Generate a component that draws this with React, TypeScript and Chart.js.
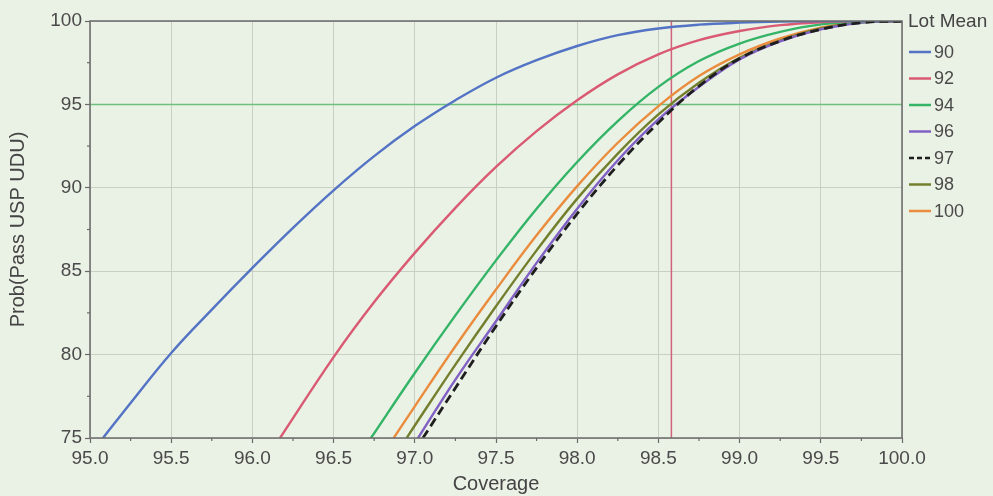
import { useEffect, useRef } from 'react';
import { Chart, registerables } from 'chart.js';

Chart.register(...registerables);

const FONT = '"Liberation Sans", Arial, Helvetica, sans-serif';
const BG = '#eaf1e5';

// Legend / series labels
const lotMeans = ['90', '92', '94', '96', '97', '98', '100'];
const seriesColors = ['#5373c4', '#d95a72', '#33b466', '#8060c4', '#1e1e1e', '#747f2e', '#ea8c3e'];

// Coverage (x) and probability (y), per lot mean
const cov90 = [95.08, 95.25, 95.5, 95.75, 96.0, 96.25, 96.5, 96.75, 97.0, 97.25, 97.5, 97.75, 98.0, 98.25, 98.5, 98.75, 99.0, 99.25, 99.5, 100.0];
const prob90 = [75, 77.1, 80.1, 82.7, 85.2, 87.6, 89.85, 91.9, 93.7, 95.25, 96.6, 97.65, 98.5, 99.15, 99.55, 99.78, 99.9, 99.97, 100, 100];

const cov92 = [96.17, 96.5, 96.75, 97.0, 97.25, 97.5, 97.75, 98.0, 98.25, 98.5, 98.75, 99.0, 99.25, 99.5, 99.75, 100.0];
const prob92 = [75, 79.85, 83.15, 86.1, 88.8, 91.25, 93.4, 95.25, 96.8, 98.0, 98.85, 99.4, 99.75, 99.93, 100, 100];

const cov94 = [96.73, 97.0, 97.25, 97.5, 97.75, 98.0, 98.25, 98.5, 98.75, 99.0, 99.25, 99.5, 99.75, 100.0];
const prob94 = [75, 78.9, 82.35, 85.65, 88.75, 91.55, 94.0, 96.05, 97.6, 98.65, 99.35, 99.8, 99.97, 100];

const cov96 = [97.02, 97.25, 97.5, 97.75, 98.0, 98.25, 98.5, 98.75, 99.0, 99.25, 99.5, 99.75, 100.0];
const prob96 = [75, 78.5, 82.0, 85.5, 88.75, 91.65, 94.1, 96.05, 97.7, 98.78, 99.5, 99.9, 100];

const cov97 = [97.05, 97.25, 97.5, 97.75, 98.0, 98.25, 98.5, 98.75, 99.0, 99.25, 99.5, 99.75, 100.0];
const prob97 = [75, 78.0, 81.7, 85.2, 88.45, 91.35, 93.9, 96.1, 97.75, 98.8, 99.5, 99.9, 100];

const cov98 = [96.95, 97.0, 97.25, 97.5, 97.75, 98.0, 98.25, 98.5, 98.75, 99.0, 99.25, 99.5, 99.75, 100.0];
const prob98 = [75, 75.75, 79.4, 82.9, 86.25, 89.35, 92.05, 94.4, 96.3, 97.8, 98.82, 99.55, 99.92, 100];

const cov100 = [96.87, 97.0, 97.25, 97.5, 97.75, 98.0, 98.25, 98.5, 98.75, 99.0, 99.25, 99.5, 99.75, 100.0];
const prob100 = [75, 76.9, 80.5, 83.9, 87.15, 90.1, 92.7, 94.9, 96.7, 98.0, 98.95, 99.6, 99.93, 100];

const coverageSets = [cov90, cov92, cov94, cov96, cov97, cov98, cov100];
const probSets = [prob90, prob92, prob94, prob96, prob97, prob98, prob100];
const dashedSeries = ['97'];

// Axis ranges and reference lines
const xMin = 95, xMax = 100, xStep = 0.5;
const yMin = 75, yMax = 100, yStep = 5;
const refProb = 95;
const refCoverage = 98.58;

const extrasPlugin = {
  id: 'extras',
  beforeDraw(chart: any) {
    const { ctx, width, height } = chart;
    ctx.save();
    ctx.fillStyle = BG;
    ctx.fillRect(0, 0, width, height);
    ctx.restore();
  },
  beforeDatasetsDraw(chart: any) {
    const { ctx, chartArea } = chart;
    const xs = chart.scales.x;
    const ys = chart.scales.y;
    ctx.save();
    ctx.lineWidth = 1.5;
    ctx.strokeStyle = '#6cc27c';
    const yp = ys.getPixelForValue(refProb);
    ctx.beginPath();
    ctx.moveTo(chartArea.left, yp);
    ctx.lineTo(chartArea.right, yp);
    ctx.stroke();
    ctx.strokeStyle = '#d0627a';
    const xp = xs.getPixelForValue(refCoverage);
    ctx.beginPath();
    ctx.moveTo(xp, chartArea.top);
    ctx.lineTo(xp, chartArea.bottom);
    ctx.stroke();
    ctx.restore();
  },
  afterDraw(chart: any) {
    const { ctx, chartArea } = chart;
    const xs = chart.scales.x;
    const ys = chart.scales.y;
    ctx.save();
    // frame
    ctx.strokeStyle = '#6a6a6a';
    ctx.lineWidth = 1.5;
    ctx.strokeRect(chartArea.left, chartArea.top, chartArea.right - chartArea.left, chartArea.bottom - chartArea.top);
    // minor ticks
    ctx.lineWidth = 1.2;
    for (let v = xMin + xStep / 2; v < xMax; v += xStep) {
      const p = xs.getPixelForValue(v);
      ctx.beginPath();
      ctx.moveTo(p, chartArea.bottom);
      ctx.lineTo(p, chartArea.bottom + 3);
      ctx.stroke();
    }
    for (let v = yMin + yStep / 2; v < yMax; v += yStep) {
      const p = ys.getPixelForValue(v);
      ctx.beginPath();
      ctx.moveTo(chartArea.left, p);
      ctx.lineTo(chartArea.left - 3, p);
      ctx.stroke();
    }
    // legend
    const lx = chartArea.right + 6;
    ctx.fillStyle = '#444';
    ctx.font = `19px ${FONT}`;
    ctx.textBaseline = 'middle';
    ctx.textAlign = 'left';
    ctx.fillText('Lot Mean', lx, 22);
    chart.data.datasets.forEach((ds: any, i: number) => {
      const y = 52 + i * 26.5;
      ctx.strokeStyle = ds.borderColor;
      ctx.lineWidth = 2.5;
      ctx.setLineDash(ds.borderDash && ds.borderDash.length ? [5, 3] : []);
      ctx.beginPath();
      ctx.moveTo(lx + 1, y);
      ctx.lineTo(lx + 23, y);
      ctx.stroke();
      ctx.setLineDash([]);
      ctx.fillStyle = '#4a4a4a';
      ctx.font = `18px ${FONT}`;
      ctx.fillText(ds.label, lx + 26, y + 1);
    });
    ctx.restore();
  },
};

export default function App() {
  const ref = useRef<HTMLCanvasElement | null>(null);
  useEffect(() => {
    document.body.style.margin = '0';
    if (!ref.current) return;
    Chart.defaults.font.family = FONT;
    const datasets = lotMeans.map((label, i) => ({
      label,
      data: coverageSets[i].map((x, j) => ({ x, y: probSets[i][j] })),
      borderColor: seriesColors[i],
      backgroundColor: seriesColors[i],
      borderWidth: dashedSeries.includes(label) ? 2.8 : 2.4,
      borderDash: dashedSeries.includes(label) ? [9, 5] : [],
      pointRadius: 0,
      tension: 0.4,
      fill: false,
      order: dashedSeries.includes(label) ? 0 : i + 1,
    }));
    const chart = new Chart(ref.current, {
      type: 'line',
      data: { datasets },
      options: {
        animation: false,
        responsive: false,
        layout: { padding: { left: 0, right: 91, top: 21, bottom: 0 } },
        plugins: { legend: { display: false }, tooltip: { enabled: false } },
        scales: {
          x: {
            type: 'linear',
            min: xMin,
            max: xMax,
            border: { display: false },
            grid: { color: '#c9cfc3', lineWidth: 1, tickLength: 5, tickColor: '#6a6a6a', tickWidth: 1.2 },
            ticks: {
              stepSize: xStep,
              color: '#4a4a4a',
              padding: 4,
              font: { size: 19 },
              maxRotation: 0,
              callback: (v: any) => Number(v).toFixed(1),
            },
            title: { display: true, text: 'Coverage', color: '#444', font: { size: 20 }, padding: { top: 0, bottom: 0 } },
            afterFit: (scale: any) => { scale.height = 58; },
          },
          y: {
            min: yMin,
            max: yMax,
            border: { display: false },
            grid: { color: '#c9cfc3', lineWidth: 1, tickLength: 5, tickColor: '#6a6a6a', tickWidth: 1.2 },
            ticks: { stepSize: yStep, color: '#4a4a4a', padding: 3, font: { size: 19 } },
            title: {
              display: true,
              text: 'Prob(Pass USP UDU)',
              color: '#444',
              font: { size: 20 },
              padding: { top: 6, bottom: 10 },
            },
            afterFit: (scale: any) => { scale.width = 90; },
          },
        },
      },
      plugins: [extrasPlugin],
    });
    return () => chart.destroy();
  }, []);
  return (
    <div style={{ width: 993, height: 496 }}>
      <canvas ref={ref} width={993} height={496} style={{ display: 'block' }} />
    </div>
  );
}
